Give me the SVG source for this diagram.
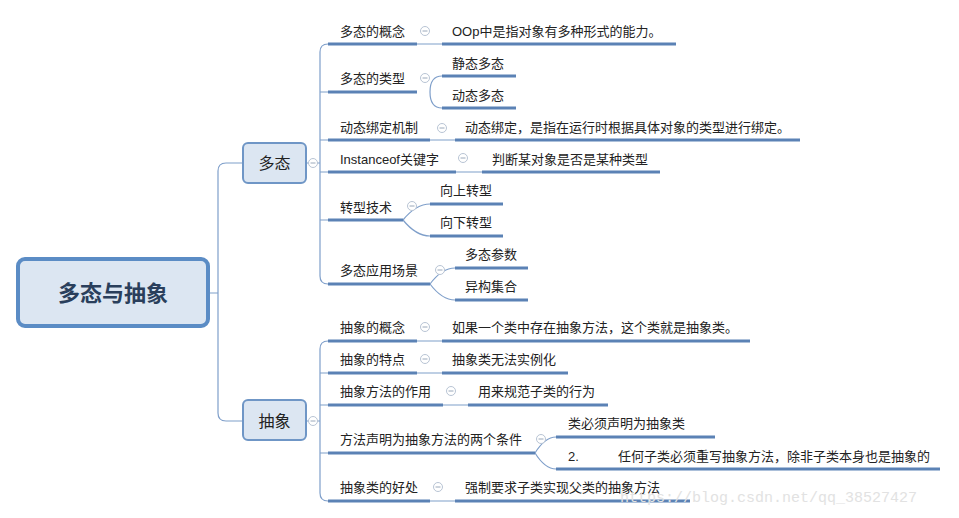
<svg xmlns="http://www.w3.org/2000/svg" width="959" height="518" viewBox="0 0 959 518">
<style>
text{font-family:"Liberation Sans","Noto Sans CJK SC",sans-serif;font-size:13px;fill:#222}
.u{stroke:#5b82b5;stroke-width:3;fill:none}
.c{stroke:#7f9fca;stroke-width:1.2;fill:none}
.k{fill:#fff;stroke:#b8c4d4;stroke-width:1}
.km{stroke:#9aa8ba;stroke-width:1}
.box{fill:#dce6f2;stroke:#6f96c6;stroke-width:2}
.wm{font-family:"Liberation Mono",monospace;font-size:15px;fill:#e2e2e2}
</style>
<defs>
<g id="col"><circle r="4.5" class="k"/><line x1="-2.5" x2="2.5" class="km"/></g>
</defs>
<rect width="959" height="518" fill="#fff"/>
<g id="connectors">
<path class="c" d="M208 293H218M218 293V171Q218 163 226 163H243M218 293V413Q218 421 226 421H243"/>
<path class="c" d="M306 163H320M320 52Q320 44 328 44M320 52V276Q320 284 328 284M306 421H320M320 349Q320 341 328 341M320 349V493Q320 501 328 501"/>
<path class="c" d="M320 92H328M320 140H328M320 172H328M320 220H328M320 373H328M320 405H328M320 453H328"/>
<path class="c" d="M417 44H442M430 92Q430 76 442 76M430 92Q430 108 442 108M430 140H455M456 172H482M403 220Q416 204 430 204M403 220Q416 236 430 236M430 284Q442 268 455 268M430 284Q442 300 455 300M417 341H442M417 373H442M443 405H468M535 453Q545 437 556 437M535 453Q545 469 556 469M430 501H455"/>
</g>
<g id="root"><rect x="18" y="259" width="190" height="67" rx="7" fill="#dce6f2" stroke="#5b8cc5" stroke-width="4"/><text x="113" y="301" text-anchor="middle" style="font-size:22px;font-weight:bold;fill:#2a3f5c">多态与抽象</text></g>
<g id="duotai"><rect class="box" x="243" y="143" width="63" height="40" rx="5"/><text x="274.5" y="169" text-anchor="middle" style="font-size:16px">多态</text><use href="#col" x="313" y="163"/></g>
<g id="chouxiang"><rect class="box" x="243" y="400" width="63" height="40" rx="5"/><text x="274.5" y="427" text-anchor="middle" style="font-size:16px">抽象</text><use href="#col" x="313" y="421"/></g>
<g id="n1"><path class="u" d="M328 44H417M442 44H676"/><text x="340" y="36">多态的概念</text><use href="#col" x="425" y="31"/><text x="452" y="36">OOp中是指对象有多种形式的能力。</text></g>
<g id="n2"><path class="u" d="M328 92H417M442 76H516M442 108H516"/><text x="340" y="83">多态的类型</text><use href="#col" x="425" y="78"/><text x="452" y="68">静态多态</text><text x="452" y="100">动态多态</text></g>
<g id="n3"><path class="u" d="M328 140H430M455 140H800"/><text x="340" y="132">动态绑定机制</text><use href="#col" x="442" y="128"/><text x="465" y="132">动态绑定，是指在运行时根据具体对象的类型进行绑定。</text></g>
<g id="n4"><path class="u" d="M328 172H456M482 172H660"/><text x="340" y="164">Instanceof关键字</text><use href="#col" x="463" y="158"/><text x="492" y="164">判断某对象是否是某种类型</text></g>
<g id="n5"><path class="u" d="M328 220H403M430 204H503M430 236H503"/><text x="340" y="212">转型技术</text><use href="#col" x="412" y="206"/><text x="440" y="195">向上转型</text><text x="440" y="227">向下转型</text></g>
<g id="n6"><path class="u" d="M328 284H430M455 268H528M455 300H528"/><text x="340" y="275">多态应用场景</text><use href="#col" x="440" y="270"/><text x="465" y="259">多态参数</text><text x="465" y="291">异构集合</text></g>
<g id="a1"><path class="u" d="M328 341H417M442 341H750"/><text x="340" y="332">抽象的概念</text><use href="#col" x="425" y="327"/><text x="452" y="332">如果一个类中存在抽象方法，这个类就是抽象类。</text></g>
<g id="a2"><path class="u" d="M328 373H417M442 373H568"/><text x="340" y="364">抽象的特点</text><use href="#col" x="425" y="359"/><text x="452" y="364">抽象类无法实例化</text></g>
<g id="a3"><path class="u" d="M328 405H443M468 405H608"/><text x="340" y="396">抽象方法的作用</text><use href="#col" x="451" y="391"/><text x="478" y="396">用来规范子类的行为</text></g>
<g id="a4"><path class="u" d="M328 453H535M556 437H715M556 469H940"/><text x="340" y="444">方法声明为抽象方法的两个条件</text><use href="#col" x="541" y="439"/><text x="568" y="428">类必须声明为抽象类</text><text x="568" y="461">2.</text><text x="618" y="461">任何子类必须重写抽象方法，除非子类本身也是抽象的</text></g>
<g id="a5"><path class="u" d="M328 501H430M455 501H690"/><text x="340" y="492">抽象类的好处</text><use href="#col" x="438" y="487"/><text x="465" y="492">强制要求子类实现父类的抽象方法</text></g>
<text class="wm" x="620" y="502">https://blog.csdn.net/qq_38527427</text>
</svg>
